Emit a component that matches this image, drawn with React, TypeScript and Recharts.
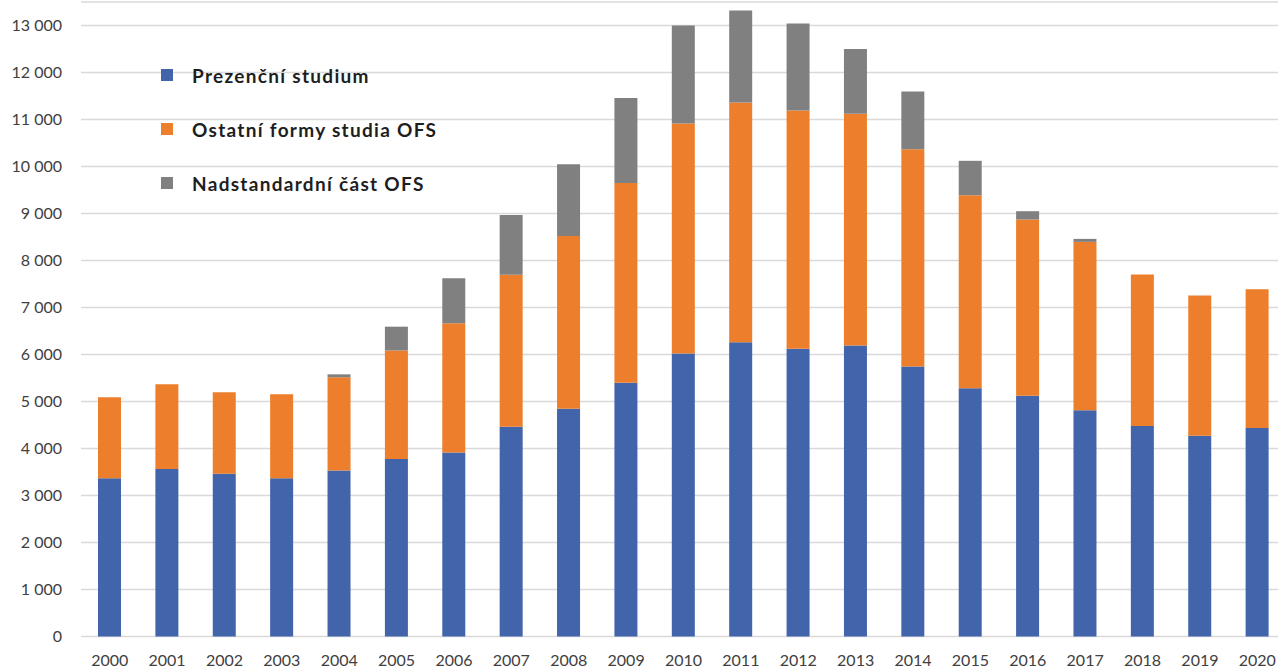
import React from "react";
import { BarChart, Bar, XAxis, YAxis, CartesianGrid, Legend } from "recharts";

const years = ["2000","2001","2002","2003","2004","2005","2006","2007","2008","2009","2010","2011","2012","2013","2014","2015","2016","2017","2018","2019","2020"];
const prezencni = [3367,3563,3464,3367,3532,3774,3915,4465,4846,5398,6021,6262,6120,6191,5745,5283,5121,4812,4479,4271,4438];
const ostatni = [1726,1804,1734,1789,1983,2311,2751,3231,3676,4249,4894,5100,5071,4930,4620,4106,3751,3584,3223,2984,2951];
const nadstandard = [0,0,0,0,63,507,957,1270,1528,1813,2085,1957,1852,1379,1230,732,177,64,0,0,0];
const yTicks = [0,1000,2000,3000,4000,5000,6000,7000,8000,9000,10000,11000,12000,13000];

const seriesKeys = ["prez", "ost", "nad"];
const seriesNames = ["Prezenční studium", "Ostatní formy studia OFS", "Nadstandardní část OFS"];
const seriesColors = ["#4164AA", "#ED7F2C", "#808080"];

const data = years.map((y, i) => ({
  year: y,
  prez: prezencni[i],
  ost: ostatni[i],
  nad: nadstandard[i],
}));

const fmt = (v: number) => {
  const s = String(v);
  return s.length > 3 ? s.slice(0, s.length - 3) + "\u00a0" + s.slice(s.length - 3) : s;
};

const FONT = "Lato, 'Liberation Sans', Arial, sans-serif";

const LegendContent = (props: any) => {
  const payload = props.payload || [];
  const ordered = seriesKeys
    .map((k) => payload.find((p: any) => p.dataKey === k))
    .filter(Boolean);
  return (
    <div style={{ fontFamily: FONT }}>
      {ordered.map((p: any, i: number) => (
        <div key={i} style={{ height: 54, display: "flex", alignItems: "center" }}>
          <span style={{ display: "inline-block", width: 12, height: 12, background: p.color, marginLeft: 6, marginRight: 19 }} />
          <span style={{ fontWeight: 700, fontSize: 19, letterSpacing: 1.3, color: "#1e1e1e", whiteSpace: "nowrap" }}>{p.value}</span>
        </div>
      ))}
    </div>
  );
};

export default function App() {
  return (
    <div style={{ position: "absolute", top: 0, left: 0, width: 1278, height: 667, overflow: "hidden", background: "#fff" }}>
      <BarChart
        width={1300}
        height={667}
        data={data}
        margin={{ top: 2, right: 14, bottom: 0, left: 0 }}
        barSize={23}
      >
        <CartesianGrid vertical={false} stroke="#d9d9d9" strokeWidth={1.3} />
        <XAxis
          dataKey="year"
          axisLine={false}
          tickLine={false}
          height={30.5}
          tickMargin={12}
          interval={0}
          tick={{ fill: "#404040", fontSize: 16, fontFamily: FONT }}
        />
        <YAxis
          width={81}
          domain={[0, 13500]}
          ticks={yTicks}
          tickFormatter={fmt}
          axisLine={false}
          tickLine={false}
          tickMargin={13}
          tick={{ fill: "#404040", fontSize: 16, fontFamily: FONT }}
        />
        <Legend
          layout="vertical"
          align="center"
          verticalAlign="middle"
          wrapperStyle={{ top: 48, left: 155, width: "auto" }}
          content={<LegendContent />}
        />
        <Bar dataKey="prez" name={seriesNames[0]} stackId="a" fill={seriesColors[0]} isAnimationActive={false} />
        <Bar dataKey="ost" name={seriesNames[1]} stackId="a" fill={seriesColors[1]} isAnimationActive={false} />
        <Bar dataKey="nad" name={seriesNames[2]} stackId="a" fill={seriesColors[2]} isAnimationActive={false} />
      </BarChart>
    </div>
  );
}
